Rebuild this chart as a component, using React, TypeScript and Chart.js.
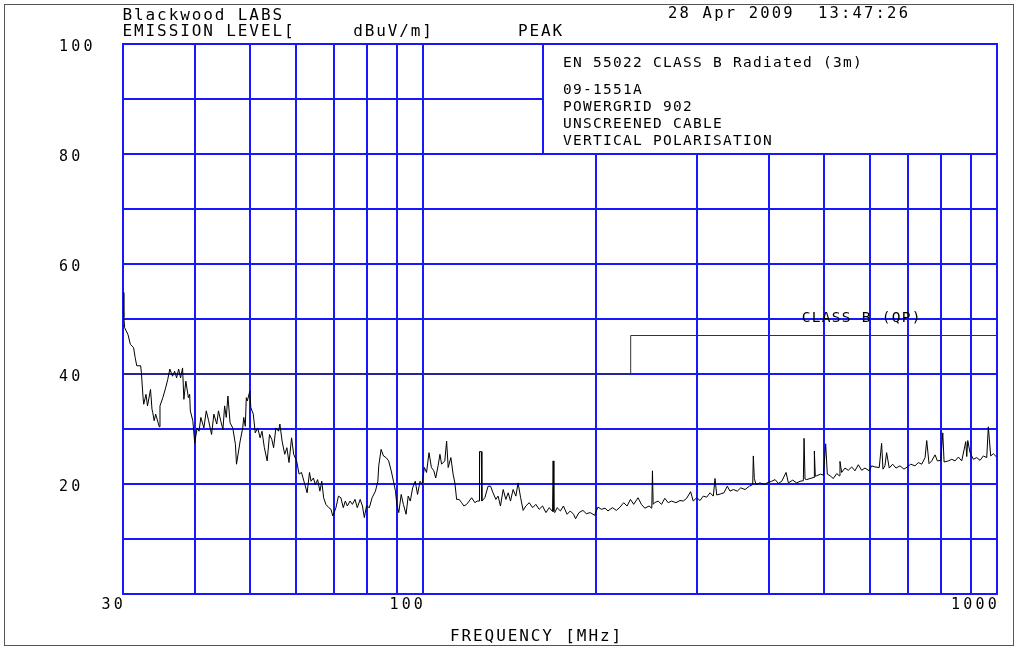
import React, { useEffect, useRef } from "react";
import { Chart, registerables } from "chart.js";

Chart.register(...registerables);

// ---------- data ----------
const traceFreqMHz: number[] = [
  30.0, 30.1, 30.2, 30.6, 30.9, 31.3, 31.5, 31.7, 32.2, 32.3, 32.5, 32.6, 32.9, 33.1, 33.5, 33.7, 33.8, 34.0, 34.2, 34.7,
  34.8, 35.2, 35.6, 35.9, 36.2, 36.6, 36.9, 37.2, 37.5, 37.8, 38.1, 38.3, 38.6, 39.0, 39.2, 39.3, 39.7, 40.0, 40.4, 40.7,
  41.0, 41.5, 41.9, 42.3, 42.8, 43.2, 43.7, 44.0, 44.4, 44.8, 45.1, 45.4, 45.7, 46.1, 46.6, 47.1, 47.3, 48.0, 48.5, 48.7,
  49.0, 49.2, 49.4, 49.9, 50.1, 50.6, 51.0, 51.5, 52.0, 52.4, 52.9, 53.5, 54.0, 54.5, 54.9, 55.4, 56.0, 56.3, 56.8, 57.4,
  57.9, 58.4, 59.0, 59.5, 60.2,
  60.8, 61.4, 62.0, 62.8,
  63.4, 63.8, 64.4, 64.9, 65.5, 66.1, 66.6, 67.1, 67.7, 68.5, 69.1, 69.6, 70.0, 70.5, 71.2, 71.9, 72.6, 73.2, 73.8, 74.6,
  75.3, 76.1, 76.8, 77.7, 78.4, 79.0, 79.7, 80.6, 81.5, 82.6, 83.4, 83.7, 84.5, 85.3, 86.2, 87.1, 88.0, 88.8, 89.5, 90.0,
  90.7, 91.6, 92.4, 93.4, 94.2, 95.0, 95.9, 96.9, 97.8, 98.8, 99.6, 100.5, 101.4, 102.4, 103.4, 104.4, 105.2, 106.2, 107.0, 107.7,
  109.1, 109.9, 110.6, 111.8, 112.8, 113.6, 114.4, 115.6, 116.7, 117.8, 119.1, 120.3, 121.5, 123.1, 124.2,
  125.2, 125.4, 126.3, 126.6,
  128.1, 129.8, 131.1, 132.4, 133.9, 135.1, 136.4, 137.9, 139.4, 140.7, 142.0, 143.5, 145.1, 146.4, 147.9, 149.4, 151.0, 153.1, 155.2, 157.2,
  159.3, 161.5, 163.7, 165.9, 168.1, 168.5, 169.0, 169.6, 171.2, 173.5, 175.6, 178.2, 180.5, 182.9, 184.4, 186.9, 189.9, 192.5, 195.6, 199.0,
  201.7, 204.5, 207.5, 210.0, 213.7, 217.2, 220.4, 223.6, 226.7, 229.8, 232.8, 236.9, 240.1, 243.4, 247.6, 250.3, 251.0, 251.7,
  253.2, 256.8, 260.3, 263.7, 267.3, 271.0, 275.8, 280.3, 284.0, 287.9, 292.5, 295.6, 299.8, 303.8, 307.8, 312.0, 316.2, 320.4, 322.6, 324.8,
  330.0, 334.4, 338.9, 342.6, 347.2, 352.8, 357.6, 363.9, 370.2, 375.3, 376.2, 377.7, 380.3, 386.4, 392.7, 397.6, 405.0, 410.5, 416.0, 421.7,
  429.0, 433.0, 440.6, 447.7, 453.8, 459.8, 461.1, 462.9, 466.1, 472.3, 480.0, 480.6, 482.4, 485.1, 492.9, 498.3, 502.9, 506.2,
  511.8, 518.6, 525.7, 531.1, 532.6, 536.2, 543.4, 550.7, 558.2, 565.6, 573.2, 581.0, 588.8, 599.0, 604.7, 612.8, 623.5, 629.4, 632.9, 637.9,
  642.2, 649.0, 657.9, 666.8, 677.5, 688.5, 697.8, 707.3, 719.6, 729.3, 739.3, 749.3, 754.3, 761.3, 769.6, 780.0, 787.2, 798.0, 804.5, 808.8,
  822.9, 834.1, 845.1, 856.4, 868.1, 882.2, 885.7, 889.3, 897.5, 909.4, 921.9, 934.1, 946.7, 959.6, 965.8, 975.1, 985.3, 998.6,
];

const traceLevelDb: number[] = [
  54.8, 50.3, 48.4, 47.2, 45.4, 44.8, 43.0, 41.5, 41.5, 40.2, 36.0, 34.5, 36.3, 34.2, 37.2, 33.6, 33.0, 31.5, 32.7, 30.4,
  34.2, 35.7, 37.5, 39.0, 40.9, 39.6, 40.5, 39.3, 40.9, 39.3, 41.1, 35.4, 38.7, 35.7, 36.3, 33.3, 31.5, 27.5, 30.2, 29.6,
  32.1, 30.2, 33.3, 31.5, 29.0, 32.7, 30.9, 33.3, 31.5, 29.9, 34.2, 32.1, 36.0, 31.1, 30.2, 27.2, 23.6, 27.8, 30.2, 32.1,
  30.5, 35.7, 35.1, 36.9, 33.9, 32.7, 29.3, 30.2, 28.4, 29.6, 26.6, 24.2, 29.0, 28.1, 26.6, 30.2, 29.6, 30.9, 27.8, 25.4,
  26.6, 23.9, 28.4, 25.4, 24.2,
  21.8, 22.1, 20.5, 18.4,
  22.1, 20.5, 21.1, 19.9, 20.8, 18.7, 20.5, 17.5, 16.3, 15.7, 15.4, 14.2, 14.8, 15.7, 17.8, 17.5, 15.7, 16.9, 16.0, 16.9,
  16.3, 17.2, 15.7, 17.2, 16.0, 13.9, 16.0, 15.7, 17.5, 18.7, 20.5, 23.3, 26.3, 25.1, 24.8, 24.2, 22.4, 20.5, 18.7, 16.3,
  14.8, 18.1, 16.3, 14.5, 17.8, 16.9, 19.3, 20.5, 18.1, 20.5, 19.9, 23.0, 22.1, 25.7, 23.0, 22.4, 21.1, 23.3, 25.4, 23.6,
  24.2, 27.8, 23.0, 24.8, 21.8, 20.2, 17.2, 17.2, 16.6, 16.0, 16.3, 16.9, 17.5, 16.6, 16.9,
  16.9, 25.9, 25.9, 16.9,
  17.5, 19.6, 19.6, 18.4, 17.2, 17.8, 16.0, 19.0, 17.2, 18.4, 16.9, 19.0, 17.8, 20.2, 17.5, 15.2, 16.0, 16.6, 15.7, 16.3,
  15.4, 16.0, 14.8, 15.7, 15.0, 24.2, 15.0, 14.8, 15.7, 15.1, 16.0, 14.5, 15.1, 14.5, 13.7, 14.8, 15.2, 14.6, 14.8, 14.3,
  15.8, 15.4, 15.6, 15.1, 15.7, 15.2, 15.8, 16.6, 16.0, 17.2, 16.3, 17.5, 16.3, 15.6, 16.0, 15.6, 22.4, 16.3,
  16.6, 16.9, 16.3, 17.4, 16.6, 16.9, 16.6, 17.0, 16.9, 17.4, 18.6, 16.9, 17.5, 17.0, 17.8, 17.6, 18.4, 17.8, 21.0, 18.0,
  18.2, 18.4, 19.6, 18.7, 19.0, 18.7, 19.3, 19.0, 19.6, 19.9, 25.1, 21.0, 19.9, 20.2, 19.9, 20.2, 20.5, 20.8, 20.1, 20.5,
  22.1, 20.2, 20.7, 20.2, 20.5, 20.6, 28.3, 20.9, 20.8, 21.0, 21.2, 26.0, 21.4, 21.5, 21.8, 21.6, 27.3, 21.8,
  21.5, 21.0, 21.9, 21.5, 24.1, 22.1, 22.9, 22.5, 23.1, 22.4, 23.5, 22.5, 22.9, 22.4, 23.3, 23.1, 23.0, 27.4, 22.7, 23.3,
  25.7, 22.9, 23.6, 22.9, 23.3, 22.7, 23.1, 23.6, 23.3, 23.9, 23.6, 24.8, 27.9, 23.7, 24.2, 25.3, 24.2, 24.3, 29.3, 24.0,
  24.2, 24.5, 24.2, 24.9, 24.2, 27.7, 25.0, 27.9, 25.7, 24.5, 24.8, 24.3, 25.1, 24.8, 30.4, 25.1, 25.5, 24.9,
];

const limitFreqMHz: number[] = [30, 230, 230, 1000];
const limitLevelDb: number[] = [40, 40, 47, 47];

const xGridMHz: number[] = [30, 40, 50, 60, 70, 80, 90, 100, 200, 300, 400, 500, 600, 700, 800, 900, 1000];
const xLabelMHz: number[] = [30, 100, 1000];
const yGridDb: number[] = [0, 10, 20, 30, 40, 50, 60, 70, 80, 90, 100];
const yLabelDb: number[] = [20, 40, 60, 80, 100];

const headerLab = "Blackwood LABS";
const headerLevel = "EMISSION LEVEL[     dBuV/m]";
const headerDetector = "PEAK";
const headerDate = "28 Apr 2009  13:47:26";
const infoLines: string[] = [
  "EN 55022 CLASS B Radiated (3m)",
  "09-1551A",
  "POWERGRID 902",
  "UNSCREENED CABLE",
  "VERTICAL POLARISATION",
];
const limitLabel = "CLASS B (QP)";
const xTitle = "FREQUENCY [MHz]";
const infoBoxFromMHz = 162;
const infoBoxFromDb = 80;
const limitLabelAtMHz = 457;

// ---------- styling ----------
const GRID_BLUE = "rgb(24,24,255)";
const MONO = '"DejaVu Sans Mono", "Liberation Mono", monospace';
const TEXT = "#000";

function drawText(
  ctx: CanvasRenderingContext2D,
  text: string,
  x: number,
  y: number,
  size: number,
  spacing: number
) {
  ctx.save();
  ctx.font = `${size}px ${MONO}`;
  (ctx as any).letterSpacing = `${spacing}px`;
  ctx.fillStyle = TEXT;
  ctx.textAlign = "left";
  ctx.textBaseline = "alphabetic";
  ctx.fillText(text, x, y);
  ctx.restore();
}

const decorPlugin = {
  id: "emcDecor",
  beforeDraw(chart: any) {
    const ctx: CanvasRenderingContext2D = chart.ctx;
    ctx.save();
    ctx.fillStyle = "#fff";
    ctx.fillRect(0, 0, chart.width, chart.height);
    ctx.restore();
    (ctx as any).letterSpacing = "3.2px";
  },
  beforeDatasetsDraw(chart: any) {
    const ctx: CanvasRenderingContext2D = chart.ctx;
    const { x, y } = chart.scales;
    const area = chart.chartArea;
    const left = Math.round(x.getPixelForValue(infoBoxFromMHz));
    const top = Math.round(y.getPixelForValue(100));
    const bottom = Math.round(y.getPixelForValue(infoBoxFromDb));
    const right = Math.round(area.right);
    ctx.save();
    ctx.fillStyle = "#fff";
    ctx.fillRect(left, top, right - left, bottom - top);
    ctx.strokeStyle = GRID_BLUE;
    ctx.lineWidth = 2;
    ctx.strokeRect(left, top, right - left, bottom - top);
    ctx.restore();
    const baselines = [66.5, 94, 110.5, 127.5, 144.5];
    infoLines.forEach((line, i) => drawText(ctx, line, left + 20, baselines[i], 14.5, 1.27));
  },
  afterDraw(chart: any) {
    const ctx: CanvasRenderingContext2D = chart.ctx;
    const { x } = chart.scales;
    drawText(ctx, headerLab, 122.5, 19.5, 16, 1.9);
    drawText(ctx, headerLevel, 122.5, 36, 16, 1.9);
    drawText(ctx, headerDetector, 518, 35.5, 16, 1.9);
    drawText(ctx, headerDate, 668, 17.5, 15.5, 2.2);
    drawText(ctx, limitLabel, x.getPixelForValue(limitLabelAtMHz), 321.5, 14.5, 1.27);
    drawText(ctx, xTitle, 450, 640.5, 16, 1.9);
    ctx.save();
    ctx.strokeStyle = "#555";
    ctx.lineWidth = 1;
    ctx.strokeRect(4.5, 4.5, 1009, 641);
    ctx.restore();
  },
};

export default function App() {
  const canvasRef = useRef<HTMLCanvasElement | null>(null);

  useEffect(() => {
    const canvas = canvasRef.current;
    if (!canvas) return;
    const n = Math.min(traceFreqMHz.length, traceLevelDb.length);
    const tracePoints = [];
    for (let i = 0; i < n; i++) tracePoints.push({ x: traceFreqMHz[i], y: traceLevelDb[i] });
    const limitPoints = limitFreqMHz.map((f, i) => ({ x: f, y: limitLevelDb[i] }));

    const chart = new Chart(canvas, {
      type: "line",
      data: {
        datasets: [
          {
            label: "PEAK",
            data: tracePoints,
            borderColor: "#000",
            borderWidth: 1,
            pointRadius: 0,
            tension: 0,
            fill: false,
          },
          {
            label: limitLabel,
            data: limitPoints,
            borderColor: "#333",
            borderWidth: 1,
            pointRadius: 0,
            tension: 0,
            fill: false,
          },
        ],
      },
      options: {
        responsive: false,
        animation: false,
        devicePixelRatio: 1,
        events: [],
        layout: { padding: { left: 59, top: 44, right: 21, bottom: 0 } },
        plugins: {
          legend: { display: false },
          tooltip: { enabled: false },
          title: { display: false },
        },
        scales: {
          x: {
            type: "logarithmic",
            min: 30,
            max: 1000,
            afterBuildTicks: (s: any) => {
              s.ticks = xGridMHz.map((v) => ({ value: v }));
            },
            afterFit: (s: any) => {
              s.height = 54;
            },
            grid: { color: GRID_BLUE, lineWidth: 2, drawTicks: false },
            border: { display: true, color: GRID_BLUE, width: 2 },
            ticks: {
              autoSkip: false,
              maxRotation: 0,
              minRotation: 0,
              align: "end",
              labelOffset: 3,
              padding: 2,
              color: TEXT,
              font: { family: MONO, size: 15 },
              callback: (v: any) => (xLabelMHz.includes(Number(v)) ? String(v) : ""),
            },
          },
          y: {
            type: "linear",
            min: 0,
            max: 100,
            afterBuildTicks: (s: any) => {
              s.ticks = yGridDb.map((v) => ({ value: v }));
            },
            afterFit: (s: any) => {
              s.width = 64;
            },
            grid: { color: GRID_BLUE, lineWidth: 2, drawTicks: false },
            border: { display: true, color: GRID_BLUE, width: 2 },
            ticks: {
              crossAlign: "far",
              labelOffset: 3,
              color: TEXT,
              font: { family: MONO, size: 15 },
              callback: (v: any) => (yLabelDb.includes(Number(v)) ? String(v) : ""),
            },
          },
        },
      } as any,
      plugins: [decorPlugin],
    });
    return () => chart.destroy();
  }, []);

  return (
    <div style={{ position: "fixed", left: 0, top: 0, width: 1018, height: 648, background: "#fff" }}>
      <canvas ref={canvasRef} width={1018} height={648} style={{ display: "block", width: 1018, height: 648 }} />
    </div>
  );
}
